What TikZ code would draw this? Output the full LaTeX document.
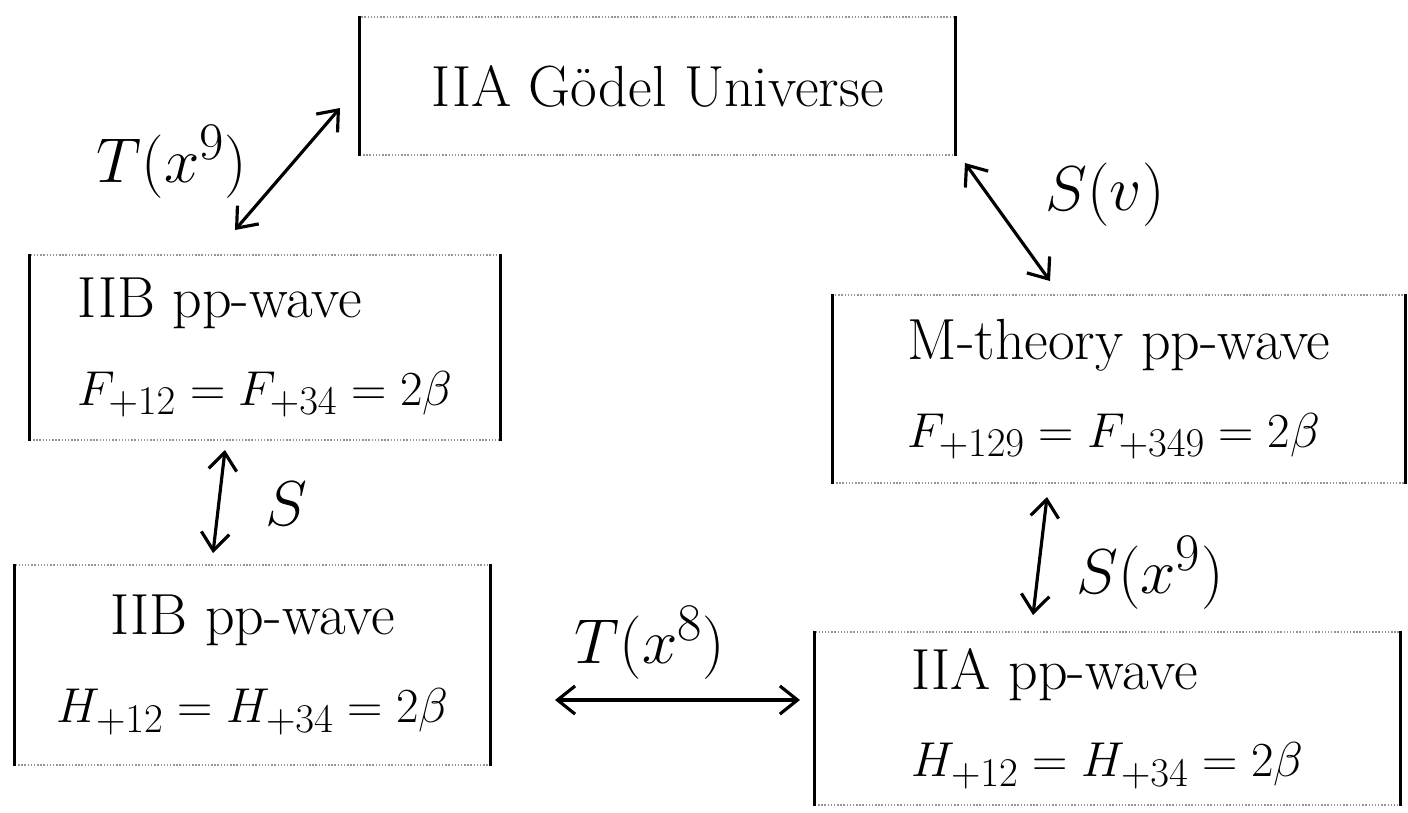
\documentclass[tikz,border=0pt]{standalone}
\usepackage{amsmath,amssymb}
\usepackage{graphicx}
\usepackage{tikz}
\usetikzlibrary{arrows.meta,calc,positioning}
\definecolor{bdc}{RGB}{150,150,150}
\newcommand{\eqln}[1]{\scalebox{1.12}{\Huge$#1$}}

\begin{document}
\begin{tikzpicture}[
    box/.style={draw=bdc,densely dotted,thick,inner sep=0pt,font=\fontsize{33}{50}\selectfont},
    lbl/.style={font=\Huge,scale=1.45,transform shape},
    dual/.style={<->,line width=1.8pt,>={Straight Barb[length=10pt,width=16pt]}}]
  \useasboundingbox (0,0) rectangle (28.16,-16.24);
  % the five backgrounds
  \node[box,minimum width=11.9cm,minimum height=2.76cm] (godel) at (13.15,-1.72) {IIA G\"odel Universe};
  \node[box,align=left,minimum width=9.4cm,minimum height=3.7cm] (iibF) at (5.3,-6.95)
    {IIB pp-wave\\ \eqln{F_{+12}=F_{+34}=2\beta}};
  \node[box,align=left,minimum width=11.44cm,minimum height=3.76cm] (mth) at (22.38,-7.78)
    {M-theory pp-wave\\ \eqln{F_{+129}=F_{+349}=2\beta}};
  \node[box,align=center,minimum width=9.5cm,minimum height=4.0cm] (iibH) at (5.05,-13.3)
    {IIB pp-wave\\ \eqln{H_{+12}=H_{+34}=2\beta}};
  \node[box,align=left,minimum width=11.7cm,minimum height=3.46cm] (iiaH) at (22.15,-14.37)
    {IIA pp-wave\\ \eqln{H_{+12}=H_{+34}=2\beta}};
  % dark side strokes
  \foreach \n in {godel,iibF,mth,iibH,iiaH}
    \draw[line width=1.5pt] (\n.north west) -- (\n.south west) (\n.north east) -- (\n.south east);
  % arrow ends
  \coordinate (t9a) at (4.7,-4.6);   \coordinate (t9b) at (6.8,-2.16);
  \coordinate (sva) at (19.3,-3.26); \coordinate (svb) at (21.0,-5.62);
  \coordinate (sa) at (4.5,-9.0);    \coordinate (sb) at (4.26,-11.06);
  \coordinate (s9a) at (20.94,-9.94); \coordinate (s9b) at (20.66,-12.3);
  \coordinate (t8a) at (11.1,-14.0); \coordinate (t8b) at (16.0,-14.0);
  \draw[dual] (t9a) -- (t9b);
  \draw[dual] (sva) -- (svb);
  \draw[dual] (sa) -- (sb);
  \draw[dual] (s9a) -- (s9b);
  \draw[dual] (t8a) -- (t8b);
  % labels
  \node[lbl] (t9) at (3.44,-3.24) {$T(x^9)$};
  \node[lbl] (sv) at (22.1,-3.9) {$S(v)$};
  \node[lbl] (s) at (5.72,-10.08) {$S$};
  \node[lbl] (s9) at (23.0,-11.45) {$S(x^9)$};
  \node[lbl] (t8) at (13.0,-12.85) {$T(x^8)$};
\end{tikzpicture}
\end{document}
